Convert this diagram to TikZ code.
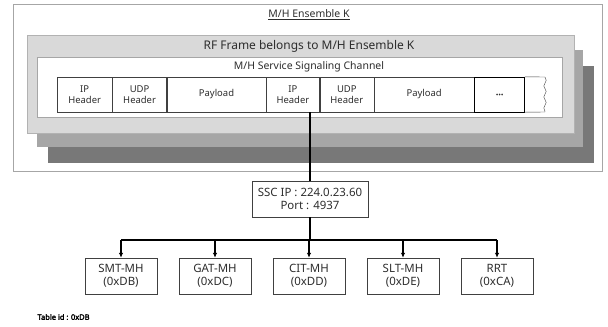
\documentclass[tikz,border=0pt]{standalone}
\usepackage{fontspec}
\setmainfont{Noto Sans}
\newfontfamily\notebold{Noto Sans}[FakeBold=2.5]
\usetikzlibrary{positioning,arrows.meta,decorations.pathmorphing}

\definecolor{framegray}{RGB}{217,217,217}
\definecolor{midgray}{RGB}{166,166,166}
\definecolor{shadowgray}{RGB}{120,120,120}
\definecolor{inkgray}{RGB}{45,45,45}

\begin{document}
\begin{tikzpicture}[x=1bp, y=-1bp, text=inkgray,
    cell/.style={draw=black!75, minimum height=35bp, inner sep=0pt, align=center,
        font=\fontsize{9.5}{11}\selectfont},
    tablebox/.style={draw=black!75, minimum width=72bp, minimum height=36bp, inner sep=0pt,
        align=center, font=\fontsize{11.5}{13}\selectfont},
    bus/.style={line width=1.6bp, black},
    >={Latex[length=5bp,width=4.5bp]}]
    \useasboundingbox (0,0) rectangle (608,326);

    % Ensemble
    \draw[gray!70] (13,4) rectangle (602,171);
    \node[font=\fontsize{10.5}{12}\selectfont] (ens) at (309,15) {\underline{M/H Ensemble K}};

    % RF frames (stacked)
    \fill[shadowgray] (48,66) rectangle (594,163);
    \fill[midgray] (37,50) rectangle (583,147);
    \filldraw[fill=framegray, draw=gray!60] (27,35) rectangle (574,133);
    \node[font=\fontsize{12}{14}\selectfont] (rf) at (309,46) {RF Frame belongs to M/H Ensemble K};

    % Signaling channel
    \filldraw[fill=white, draw=gray!70] (37,57) rectangle (562,117);
    \node[font=\fontsize{10.5}{12}\selectfont] (ssch) at (309,67) {M/H Service Signaling Channel};

    % Packets
    \node[cell, minimum width=55bp, anchor=west] (ip1) at (57,94.5) {IP\\Header};
    \node[cell, minimum width=54bp, right=0pt of ip1] (udp1) {UDP\\Header};
    \node[cell, minimum width=99bp, right=0pt of udp1] (pay1) {Payload};
    \node[cell, minimum width=53bp, right=0pt of pay1] (ip2) {IP\\Header};
    \node[cell, minimum width=54bp, right=0pt of ip2] (udp2) {UDP\\Header};
    \node[cell, minimum width=100bp, right=0pt of udp2] (pay2) {Payload};
    \node[cell, minimum width=50bp, right=0pt of pay2, draw=black] (more) {\notebold ...};
    \coordinate (tearT) at (545,77);
    \coordinate (tearB) at (545,112);
    \draw[black!75] (more.north east) -- (tearT)
        decorate[decoration={snake, amplitude=1.2bp, segment length=11bp}] {-- (tearB)}
        -- (more.south east);

    % SSC
    \node[draw=black!75, minimum width=116bp, minimum height=36bp, inner sep=0pt, align=center,
        font=\fontsize{11.5}{13}\selectfont] (ssc) at (310,199) {SSC IP : 224.0.23.60\\Port : 4937};
    \draw[bus] (ssc.north |- ip2.south) -- (ssc.north);

    % Tables
    \node[tablebox] (smt) at (121,276) {SMT-MH\\(0xDB)};
    \node[tablebox] (gat) at (215,276) {GAT-MH\\(0xDC)};
    \node[tablebox] (cit) at (309,276) {CIT-MH\\(0xDD)};
    \node[tablebox] (slt) at (403,276) {SLT-MH\\(0xDE)};
    \node[tablebox] (rrt) at (497,276) {RRT\\(0xCA)};

    \coordinate (split) at (310,240);
    \draw[bus] (ssc.south) -- (split);
    \draw[bus] (smt.north |- split) -- (rrt.north |- split);
    \foreach \t in {smt,gat,cit,slt,rrt}
        \draw[bus, ->] (\t.north |- split) -- (\t.north);

    \node[anchor=west, font=\notebold\fontsize{7.5}{9}\selectfont, text=black] (tid) at (34,317) {Table id : 0xDB};
\end{tikzpicture}
\end{document}
